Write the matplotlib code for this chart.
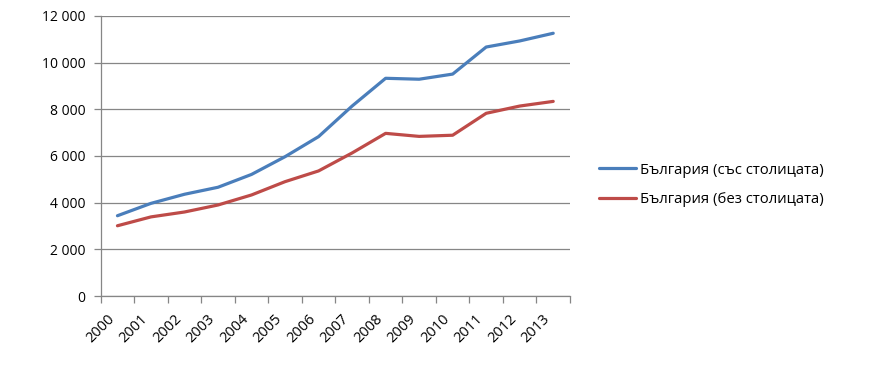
import numpy as np
import matplotlib.pyplot as plt
from matplotlib.ticker import FuncFormatter, MultipleLocator

# data
years = ['2000', '2001', '2002', '2003', '2004', '2005', '2006',
         '2007', '2008', '2009', '2010', '2011', '2012', '2013']
with_capital = [3440, 3970, 4360, 4660, 5210, 5970, 6830,
                8140, 9330, 9290, 9510, 10670, 10930, 11260]
without_capital = [3010, 3390, 3600, 3900, 4330, 4900, 5360,
                   6130, 6970, 6840, 6890, 7830, 8140, 8340]
labels = ['България (със столицата)', 'България (без столицата)']

plt.rcParams['font.family'] = ['Open Sans', 'DejaVu Sans']

fig = plt.figure(figsize=(8.71, 3.70), dpi=100)
ax = fig.add_axes([0.1156, 0.2, 0.5388, 0.7568])

x = np.arange(len(years))
ax.plot(x, with_capital, color='#4A7EBB', lw=2.3, label=labels[0],
        solid_capstyle='round')
ax.plot(x, without_capital, color='#BE4B48', lw=2.3, label=labels[1],
        solid_capstyle='round')

grey = '#868686'
ax.set_xlim(-0.5, len(years) - 0.5)
ax.set_ylim(0, 12000)
ax.yaxis.set_major_locator(MultipleLocator(2000))
ax.yaxis.set_major_formatter(FuncFormatter(lambda v, p: f'{int(v):,}'.replace(',', ' ')))
ax.grid(axis='y', color=grey, lw=0.9)
ax.set_axisbelow(True)

# category labels at centres, tick marks between categories
ax.set_xticks(x)
ax.set_xticklabels(years, rotation=45, ha='right', va='top', fontsize=10.5)
ax.tick_params(axis='x', which='major', length=0, pad=11)
ax.set_xticks(np.arange(-0.5, len(years)), minor=True)
ax.tick_params(axis='x', which='minor', length=5, color=grey, width=0.9)
ax.tick_params(axis='y', length=5, color=grey, width=0.9, labelsize=10, pad=6)

for s in ['top', 'right']:
    ax.spines[s].set_visible(False)
for s in ['left', 'bottom']:
    ax.spines[s].set_color(grey)
    ax.spines[s].set_linewidth(0.9)

fig.legend(loc='center left', bbox_to_anchor=(0.672, 0.5), frameon=False,
           fontsize=10.7, handlelength=2.5, handletextpad=0.25, labelspacing=1.0)

fig.savefig('out.png', dpi=100)
